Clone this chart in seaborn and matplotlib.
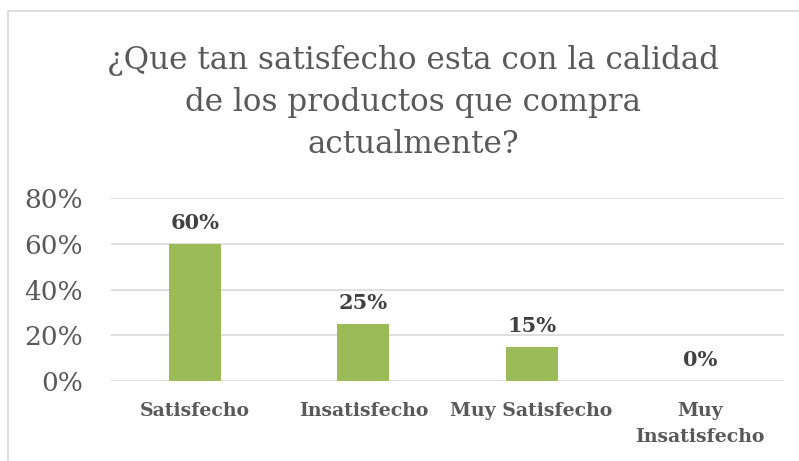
import numpy as np
import matplotlib
matplotlib.use("Agg")
import matplotlib.pyplot as plt
import seaborn as sns
import pandas as pd
from matplotlib.patches import Rectangle
from matplotlib.ticker import PercentFormatter

categories = ["Satisfecho", "Insatisfecho", "Muy Satisfecho", "Muy\nInsatisfecho"]
values = [0.60, 0.25, 0.15, 0.00]
yticks = [0.0, 0.2, 0.4, 0.6, 0.8]

df = pd.DataFrame({"categoria": categories, "valor": values})

sns.set_style("white")
plt.rcParams['font.family'] = ['DejaVu Serif']
grey = '#595959'

fig = plt.figure(figsize=(7.99, 4.61), dpi=100)
ax = fig.add_axes([111/799, 1-381/461, (784-111)/799, (381-198)/461])

sns.barplot(data=df, x="categoria", y="valor", color='#9BBB59', width=0.31,
            saturation=1, linewidth=0, ax=ax)

ax.set_ylim(0, 0.8)
ax.set_xlim(-0.5, 3.5)
ax.set_yticks(yticks)
ax.yaxis.set_major_formatter(PercentFormatter(1.0, decimals=0))
ax.grid(axis='y', color='#d9d9d9', lw=1.2)
ax.set_axisbelow(True)
for s in ax.spines.values():
    s.set_visible(False)
ax.tick_params(axis='y', length=0, labelsize=19, labelcolor=grey, pad=20)
ax.tick_params(axis='x', length=0, labelsize=13.6, labelcolor=grey, pad=15)
for lab in ax.get_xticklabels():
    lab.set_fontweight('bold')
    lab.set_linespacing(1.55)
ax.set_xlabel('')
ax.set_ylabel('')

for i, v in enumerate(values):
    ax.annotate(f"{v*100:.0f}%", (i, v), xytext=(0, 8), textcoords='offset points',
                ha='center', va='bottom', fontsize=15, fontweight='bold', color='#404040')

fig.text(413/799, 1-45/461,
         "¿Que tan satisfecho esta con la calidad\nde los productos que compra\nactualmente?",
         ha='center', va='top', fontsize=22.3, color=grey, linespacing=1.45)

fig.patches.append(Rectangle((8/799, -0.1), 1.2, 1.1 - 11/461, transform=fig.transFigure,
                             fill=False, edgecolor='#d9d9d9', lw=1.2))

fig.savefig("out.png", dpi=100)
